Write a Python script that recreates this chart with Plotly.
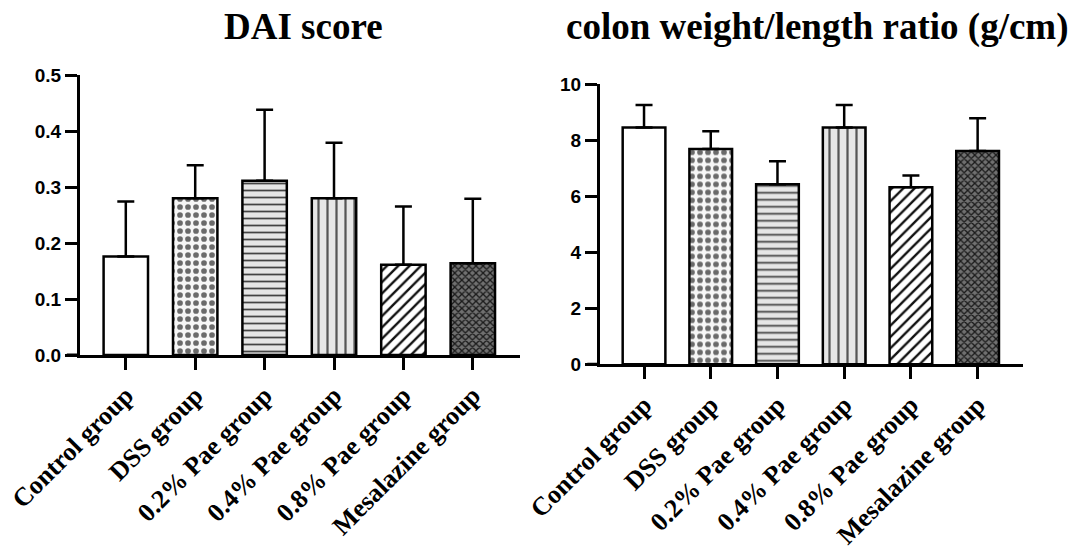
import plotly.graph_objects as go

# Données
groups = ["Control group", "DSS group", "0.2% Pae group", "0.4% Pae group",
          "0.8% Pae group", "Mesalazine group"]

dai_mean = [0.176, 0.280, 0.311, 0.280, 0.161, 0.164]
dai_sd = [0.098, 0.059, 0.127, 0.099, 0.104, 0.115]

ratio_mean = [8.46, 7.69, 6.43, 8.46, 6.32, 7.62]
ratio_sd = [0.80, 0.63, 0.82, 0.80, 0.42, 1.17]

dai_ticks = [0.0, 0.1, 0.2, 0.3, 0.4, 0.5]
ratio_ticks = [0, 2, 4, 6, 8, 10]

# Motifs façon GraphPad
shapes = ["", ".", "-", "|", "/", "x"]
fg = ["#000000", "#6a6a6a", "#444444", "#555555", "#111111", "#1a1a1a"]
bg = ["#ffffff", "#f6f6f6", "#e6e6e6", "#e6e6e6", "#ffffff", "#707070"]
psize = [8, 8, 7, 9, 8, 5]
solid = [0.3, 0.4, 0.25, 0.25, 0.3, 0.45]

W, H = 1084, 552


def px(x):
    return x / W


def py(y):
    return 1 - y / H


fig = go.Figure()


def add_bars(y, err, xa, ya):
    fig.add_trace(go.Bar(
        x=groups, y=y, xaxis=xa, yaxis=ya, width=0.64,
        marker=dict(
            color="white",
            line=dict(color="black", width=2.5),
            pattern=dict(shape=shapes, fgcolor=fg, bgcolor=bg,
                         size=psize, solidity=solid, fillmode="replace"),
        ),
        error_y=dict(type="data", array=err, arrayminus=[0] * len(err),
                     symmetric=False, color="black", thickness=2.5, width=8.5),
        showlegend=False,
    ))


add_bars(dai_mean, dai_sd, "x", "y")
add_bars(ratio_mean, ratio_sd, "x2", "y2")

xcommon = dict(
    type="category", range=[-0.66, 5.68], showline=True, linecolor="black",
    linewidth=3, ticks="outside", ticklen=12, tickwidth=3, tickcolor="black",
    tickangle=-45, showgrid=False, zeroline=False, automargin=False,
    tickfont=dict(family="Liberation Serif", size=26, color="black", weight="bold"),
)
ycommon = dict(
    showline=True, linecolor="black", linewidth=3, ticks="outside",
    ticklen=12, tickwidth=3, tickcolor="black", showgrid=False, zeroline=False,
    automargin=False,
    tickfont=dict(family="Liberation Sans", size=19, color="black", weight="bold"),
)

fig.update_layout(
    width=W, height=H,
    margin=dict(l=0, r=0, t=0, b=0, autoexpand=False),
    paper_bgcolor="white", plot_bgcolor="white",
    xaxis=dict(domain=[px(80), px(520)], anchor="y", **xcommon),
    yaxis=dict(domain=[py(355), py(75)], anchor="x", range=[0, 0.5],
               tickvals=dai_ticks, tickformat=".1f", **ycommon),
    xaxis2=dict(domain=[px(600), px(1023)], anchor="y2", **xcommon),
    yaxis2=dict(domain=[py(364.3), py(84.3)], anchor="x2", range=[0, 10],
                tickvals=ratio_ticks, **ycommon),
)

# Titres
tfont = dict(family="Liberation Serif", size=37, color="black", weight="bold")
fig.add_annotation(text="DAI score", x=px(303), y=py(27), xanchor="center",
                   yanchor="middle", xref="paper", yref="paper",
                   showarrow=False, font=tfont)
fig.add_annotation(text="colon weight/length ratio (g/cm)", x=px(817),
                   y=py(27), xanchor="center", yanchor="middle",
                   xref="paper", yref="paper", showarrow=False, font=tfont)

# Prolongement de l'axe x à gauche de l'axe y (style GraphPad)
for xr, yr in [("x domain", "y"), ("x2 domain", "y2")]:
    fig.add_shape(type="line", xref=xr, yref=yr, x0=-0.03, x1=0, y0=0, y1=0,
                  line=dict(color="black", width=3))

# pas de marge sur le <body>, la figure commence au coin de la page
fig.write_html("out.html", config={"displayModeBar": False},
               post_script="document.body.style.margin = '0';")
